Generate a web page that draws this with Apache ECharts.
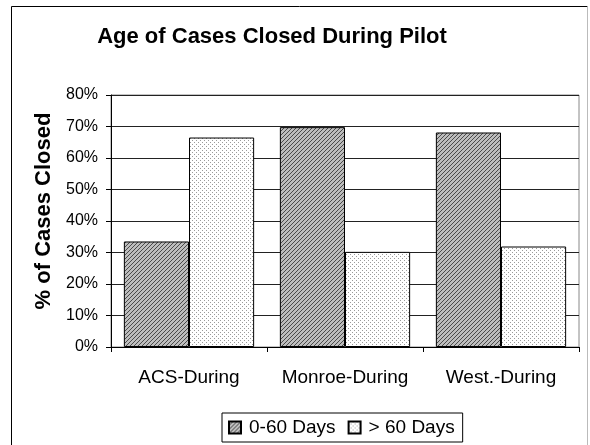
<!DOCTYPE html>
<html>
<head>
<meta charset="utf-8">
<script src="https://cdn.jsdelivr.net/npm/echarts@6/dist/echarts.min.js"></script>
<style>
  html, body { margin: 0; padding: 0; background: #fff; }
  #chart { width: 590px; height: 445px; }
</style>
</head>
<body>
<div id="chart"></div>
<script>
const categories = ['ACS-During', 'Monroe-During', 'West.-During'];
const seriesNames = ['0-60 Days', '> 60 Days'];
const shortAges = [33.5, 69.8, 68.1];
const longAges = [66.5, 30.2, 31.9];
const yTicks = [0, 10, 20, 30, 40, 50, 60, 70, 80];

// fill patterns like the old excel hatches
function hatchPattern() {
  const c = document.createElement('canvas');
  c.width = 4; c.height = 4;
  const g = c.getContext('2d');
  g.fillStyle = '#bdbdbd';
  g.fillRect(0, 0, 4, 4);
  g.strokeStyle = '#4a4a4a';
  g.lineWidth = 1;
  g.beginPath();
  g.moveTo(-1, 5); g.lineTo(5, -1);
  g.moveTo(-1, 1); g.lineTo(1, -1);
  g.moveTo(3, 5); g.lineTo(5, 3);
  g.stroke();
  return c;
}

function dotPattern() {
  const c = document.createElement('canvas');
  c.width = 4; c.height = 4;
  const g = c.getContext('2d');
  g.fillStyle = '#fff';
  g.fillRect(0, 0, 4, 4);
  g.fillStyle = '#9a9a9a';
  g.fillRect(0, 0, 1, 1);
  g.fillRect(2, 2, 1, 1);
  return c;
}

const chart = echarts.init(document.getElementById('chart'));
const font = '"Liberation Sans", Arial, sans-serif';

chart.setOption({
  animation: false,
  backgroundColor: '#fff',
  textStyle: { fontFamily: font, color: '#000' },
  title: {
    text: 'Age of Cases Closed During Pilot',
    left: 267,
    textAlign: 'center',
    top: 21,
    textStyle: { fontFamily: font, fontSize: 22, fontWeight: 'bold', color: '#000' }
  },
  graphic: [
    { type: 'line', shape: { x1: 11.5, y1: 6.5, x2: 11.5, y2: 445 }, style: { stroke: '#000', lineWidth: 1 }, silent: true },
    { type: 'line', shape: { x1: 11.5, y1: 6.5, x2: 587.5, y2: 6.5 }, style: { stroke: '#000', lineWidth: 1 }, silent: true },
    { type: 'line', shape: { x1: 587.5, y1: 6.5, x2: 587.5, y2: 445 }, style: { stroke: '#bbb', lineWidth: 1 }, silent: true }
  ],
  grid: {
    left: 111, right: 11, top: 95, bottom: 98,
    show: true, borderColor: '#888', borderWidth: 1
  },
  legend: {
    bottom: 3,
    left: 222,
    itemWidth: 12,
    itemHeight: 12,
    itemGap: 12,
    padding: [5, 8, 5, 6],
    borderColor: '#000',
    borderWidth: 1,
    icon: 'rect',
    textStyle: { fontFamily: font, fontSize: 19, color: '#000', padding: [0, 0, 0, 3] },
    data: seriesNames
  },
  xAxis: {
    type: 'category',
    data: categories,
    axisLine: { lineStyle: { color: '#000', width: 1 } },
    axisTick: { show: true, interval: 0, length: 5, lineStyle: { color: '#000' } },
    axisLabel: { interval: 0, fontFamily: font, fontSize: 19, color: '#000', margin: 21 }
  },
  yAxis: {
    type: 'value',
    min: 0,
    max: 80,
    interval: 10,
    name: '% of Cases Closed',
    nameLocation: 'middle',
    nameGap: 55,
    nameTextStyle: { fontFamily: font, fontSize: 22, fontWeight: 'bold', color: '#000', padding: [0, 0, 0, 20] },
    axisLine: { show: true, lineStyle: { color: '#000' } },
    axisTick: { show: true, length: 5, lineStyle: { color: '#000' } },
    axisLabel: {
      fontFamily: font, fontSize: 16, color: '#000', margin: 13,
      formatter: (v) => yTicks.includes(v) ? v + '%' : ''
    },
    splitLine: { show: true, lineStyle: { color: '#222', width: 1 } }
  },
  series: [
    {
      name: seriesNames[0],
      type: 'bar',
      data: shortAges,
      barGap: '0%',
      barCategoryGap: '16.5%',
      itemStyle: {
        color: { image: hatchPattern(), repeat: 'repeat' },
        borderColor: '#000',
        borderWidth: 1
      }
    },
    {
      name: seriesNames[1],
      type: 'bar',
      data: longAges,
      itemStyle: {
        color: { image: dotPattern(), repeat: 'repeat' },
        borderColor: '#000',
        borderWidth: 1
      }
    }
  ]
});
</script>
</body>
</html>
